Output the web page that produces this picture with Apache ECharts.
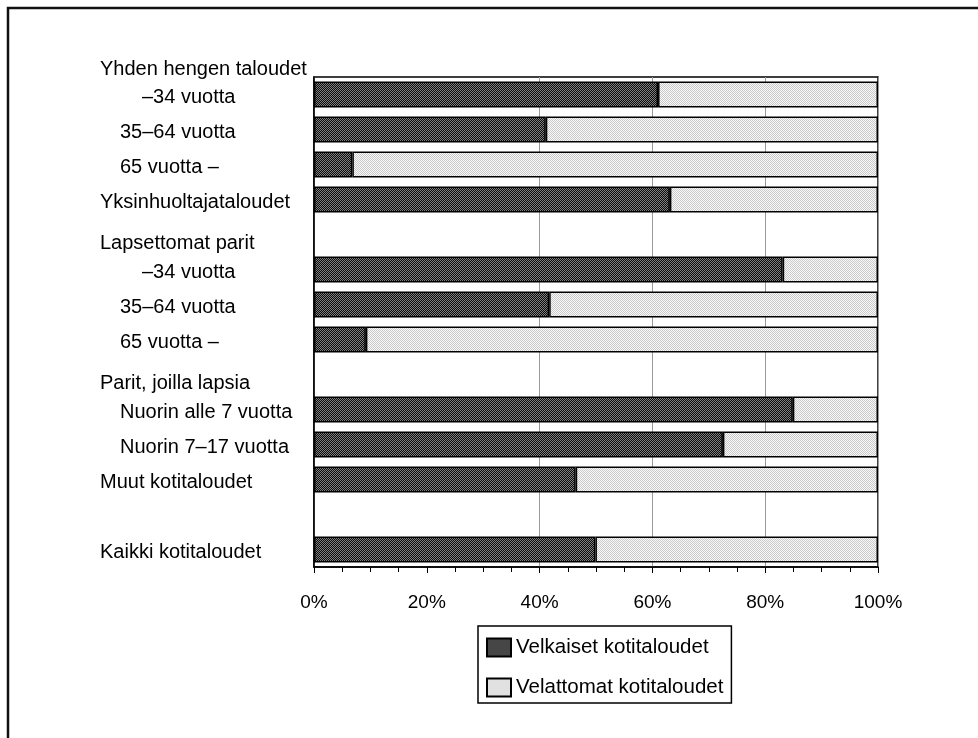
<!DOCTYPE html>
<html>
<head>
<meta charset="utf-8">
<script src="https://cdn.jsdelivr.net/npm/echarts@6/dist/echarts.min.js"></script>
<style>html,body{margin:0;padding:0;background:#fff;}#c{width:978px;height:738px;}</style>
</head>
<body>
<div id="c"></div>
<script>
// ---- data ----
const groupTitle = 'Yhden hengen taloudet';
const categories = ['–34 vuotta', '35–64 vuotta', '65 vuotta –', 'Yksinhuoltajataloudet',
  'Lapsettomat parit', '–34 vuotta', '35–64 vuotta', '65 vuotta –',
  'Parit, joilla lapsia', 'Nuorin alle 7 vuotta', 'Nuorin 7–17 vuotta', 'Muut kotitaloudet',
  '', 'Kaikki kotitaloudet'];
const levels = [1, 1, 1, 0, 0, 1, 1, 1, 0, 1, 1, 0, 0, 0];
const velkaiset = [61.0, 41.1, 6.8, 63.1, null, 83.1, 41.7, 9.2, null, 84.9, 72.5, 46.4, null, 49.9];
const velattomat = [39.0, 58.9, 93.2, 36.9, null, 16.9, 58.3, 90.8, null, 15.1, 27.5, 53.6, null, 50.1];
const seriesNames = ['Velkaiset kotitaloudet', 'Velattomat kotitaloudet'];
const xTicks = [0, 20, 40, 60, 80, 100];

// ---- patterns ----
function pattern(a, b) {
  const c = document.createElement('canvas');
  c.width = 2; c.height = 2;
  const g = c.getContext('2d');
  g.fillStyle = a; g.fillRect(0, 0, 2, 2);
  g.fillStyle = b; g.fillRect(0, 0, 1, 1); g.fillRect(1, 1, 1, 1);
  return { image: c, repeat: 'repeat' };
}
const darkFill = pattern('#0c0c0c', '#808080');
const lightFill = pattern('#f8f8f8', '#cacaca');

const chart = echarts.init(document.getElementById('c'), null, { renderer: 'canvas' });
const F = 'Liberation Sans, Arial, sans-serif';

chart.setOption({
  animation: false,
  backgroundColor: '#fff',
  title: {
    text: groupTitle, left: 100, top: 59, padding: 0,
    textStyle: { fontFamily: F, fontSize: 20, fontWeight: 'normal', color: '#000' }
  },
  graphic: [{
    type: 'rect', shape: { x: 8, y: 8, width: 1100, height: 1100 },
    style: { fill: 'none', stroke: '#111', lineWidth: 2.5 }, silent: true
  }],
  legend: {
    data: seriesNames, orient: 'vertical', left: 478, top: 626, icon: 'rect',
    itemWidth: 24, itemHeight: 18, itemGap: 19,
    padding: [11, 8, 5, 8],
    borderColor: '#000', borderWidth: 1.5,
    textStyle: { fontFamily: F, fontSize: 20.5, color: '#000' }
  },
  grid: {
    left: 314, right: 100, top: 77, bottom: 171, show: true,
    borderColor: '#000', borderWidth: 1.5, backgroundColor: 'rgba(0,0,0,0)'
  },
  xAxis: {
    type: 'value', min: xTicks[0], max: xTicks[xTicks.length - 1], interval: 20,
    axisLine: { show: true, lineStyle: { color: '#000', width: 1.5 } },
    axisTick: { show: true, length: 6, lineStyle: { color: '#000' } },
    minorTick: { show: true, splitNumber: 4, length: 5, lineStyle: { color: '#000' } },
    splitLine: { show: true, lineStyle: { color: ['#9a9a9a', 'rgba(0,0,0,0)', '#9a9a9a', '#9a9a9a', '#9a9a9a', '#9a9a9a'], width: 1 } },
    axisLabel: { formatter: '{value}%', fontFamily: F, fontSize: 19, color: '#000', margin: 26 }
  },
  yAxis: {
    type: 'category', data: categories, inverse: true,
    axisLine: { show: true, lineStyle: { color: '#000', width: 1.5 } },
    axisTick: { show: false },
    axisLabel: {
      interval: 0, align: 'left', margin: 214, color: '#000', fontFamily: F, fontSize: 20,
      formatter: function (value, idx) {
        if (!value) return '';
        if (velkaiset[idx] == null) return '{h|' + value + '}';
        if (levels[idx] === 1) return (value.charAt(0) === '–' ? '{t|' : '{s|') + value + '}';
        return '{n|' + value + '}';
      },
      rich: {
        n: { fontFamily: F, fontSize: 20, color: '#000', padding: [6, 0, 0, 0] },
        s: { fontFamily: F, fontSize: 20, color: '#000', padding: [6, 0, 0, 20] },
        t: { fontFamily: F, fontSize: 20, color: '#000', padding: [6, 0, 0, 42] },
        h: { fontFamily: F, fontSize: 20, color: '#000', padding: [17, 0, 0, 0] }
      }
    }
  },
  series: [
    {
      name: seriesNames[0], type: 'bar', stack: 'all', barWidth: 26, data: velkaiset,
      itemStyle: { color: darkFill, borderColor: '#000', borderWidth: 1.5 }
    },
    {
      name: seriesNames[1], type: 'bar', stack: 'all', barWidth: 26, data: velattomat,
      itemStyle: { color: lightFill, borderColor: '#000', borderWidth: 1.5 }
    }
  ]
});
</script>
</body>
</html>
